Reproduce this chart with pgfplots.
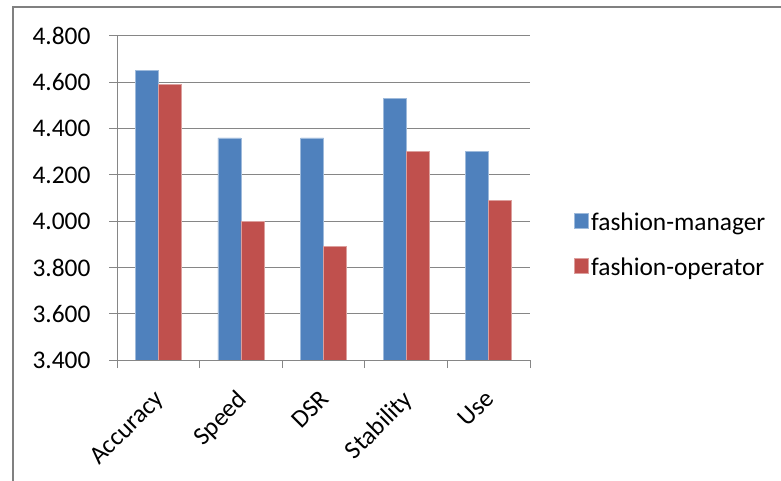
\documentclass[border=0pt]{standalone}
\usepackage{pgfplots}
\pgfplotsset{compat=1.18}
\usepackage{fontspec}
\setmainfont{Carlito}
\definecolor{mgrblue}{RGB}{79,129,189}
\definecolor{oprred}{RGB}{192,80,77}
\definecolor{gridgray}{RGB}{134,134,134}
\definecolor{framegray}{RGB}{128,128,128}
\newcommand{\chartfont}{\fontsize{25.5}{30}\selectfont}
\begin{document}
\begin{tikzpicture}
\useasboundingbox (0,0) rectangle (781bp,481bp);
% outer chart frame
\draw[framegray, line width=1.5bp] (13bp,-5bp) -- (13bp,474bp) -- (790bp,474bp);
\begin{axis}[
  at={(117bp,121bp)}, anchor=south west,
  scale only axis, width=413bp, height=324bp,
  xmin=-0.5, xmax=4.5, ymin=3.4, ymax=4.8,
  ybar=0pt, bar width=23bp,
  axis x line*=bottom, axis y line*=left,
  axis line style={gridgray, line width=1bp, -},
  xtick={0,1,2,3,4},
  xticklabels={Accuracy,Speed,DSR,Stability,Use},
  major x tick style={draw=none},
  minor xtick={-0.5,0.5,1.5,2.5,3.5,4.5},
  minor x tick style={gridgray, line width=1bp},
  ytick={3.4,3.6,3.8,4.0,4.2,4.4,4.6,4.8},
  major y tick style={gridgray, line width=1bp},
  tick align=outside, major tick length=8bp, minor tick length=8bp,
  ymajorgrids, grid style={gridgray, line width=1bp},
  /pgf/number format/assume math mode=true,
  tick label style={font=\chartfont, text=black},
  yticklabel style={/pgf/number format/fixed, /pgf/number format/fixed zerofill,
    /pgf/number format/precision=3, xshift=-15bp},
  xticklabel style={xshift=-5bp, yshift=-16bp, rotate=45, anchor=north east},
  legend style={at={(1.1,0.355)}, anchor=west, draw=none, fill=none,
    font=\chartfont, row sep=22bp, legend cell align=left},
  legend image code/.code={\fill[#1] (0bp,-6bp) rectangle (14bp,9bp);},
]
\addplot[fill=mgrblue, draw=mgrblue!55!white, line width=0.6bp]
  coordinates {(0,4.65) (1,4.36) (2,4.36) (3,4.53) (4,4.30)};
\addplot[fill=oprred, draw=oprred!55!white, line width=0.6bp]
  coordinates {(0,4.59) (1,4.00) (2,3.89) (3,4.30) (4,4.09)};
\legend{fashion-manager,fashion-operator}
\end{axis}
\end{tikzpicture}
\end{document}
